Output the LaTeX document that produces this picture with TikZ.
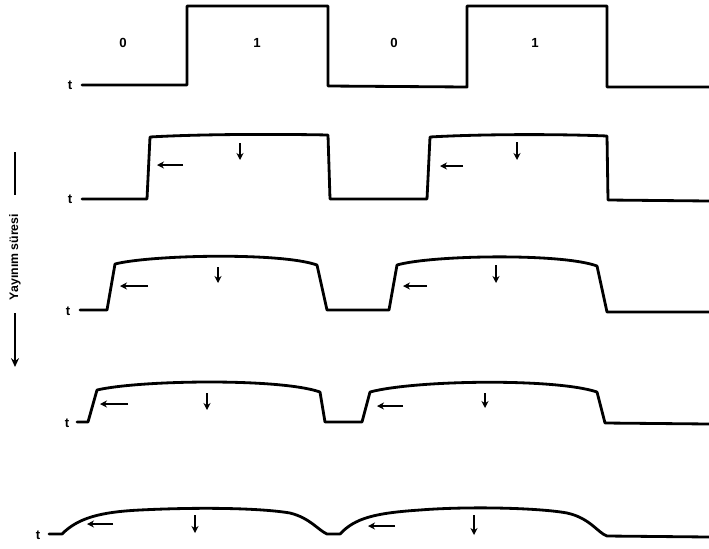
\documentclass[tikz,border=0pt]{standalone}
\usepackage{fontspec}
\setmainfont{Liberation Sans}
\usepackage{tikz}
\usetikzlibrary{arrows.meta}

\begin{document}
\begin{tikzpicture}[
  x=0.02cm, y=-0.02cm,
  font=\fontsize{7.5}{8}\selectfont\bfseries,
  wave/.style={line width=1.6pt, line join=round, line cap=round},
  lbl/.style={inner sep=0pt},
  shiftarr/.style={-{Stealth[length=4pt,width=4pt]}, line width=0.8pt},
  axarr/.style={-{Stealth[length=5pt,width=4.5pt]}, line width=0.9pt}
]
\useasboundingbox (0,0) rectangle (709,548);

% giris isareti
\node[lbl] (t1) at (70,85) {t};
\node[lbl] (b0a) at (123,43) {0};
\node[lbl] (b1a) at (257,43) {1};
\node[lbl] (b0b) at (394,43) {0};
\node[lbl] (b1b) at (535,43) {1};
\draw[wave] (82,85) -- (187,85) -- (187,6) -- (328,6) -- (328,86) -- (467,87)
  -- (467,6) -- (607,6) -- (607,87) -- (709,87);

% 1. adim
\node[lbl] (t2) at (70,199) {t};
\draw[wave] (82,199) -- (147,199) -- (150,137) .. controls (200,134) and (280,134) .. (328,135)
  -- (330,199) -- (427,199) -- (430,137) .. controls (480,134) and (560,134) .. (607,136)
  -- (608,200) -- (709,201);
\draw[shiftarr] (183,165) -- (157,165);
\draw[shiftarr] (463,166) -- (440,166);
\draw[shiftarr] (240,143) -- (240,160);
\draw[shiftarr] (517,142) -- (517,160);

% 2. adim
\node[lbl] (t3) at (68,311) {t};
\draw[wave] (80,310) -- (107,310) -- (115,264) .. controls (150,255) and (280,252) .. (317,265)
  -- (327,310) -- (389,310) -- (397,265) .. controls (432,255) and (562,253) .. (597,266)
  -- (607,312) -- (709,312);
\draw[shiftarr] (148,286) -- (120,286);
\draw[shiftarr] (427,286) -- (403,286);
\draw[shiftarr] (218,267) -- (218,283);
\draw[shiftarr] (496,265) -- (496,283);

% 3. adim
\node[lbl] (t4) at (67,423) {t};
\draw[wave] (77,422) -- (88,422) -- (97,390) .. controls (140,380) and (280,378) .. (320,392)
  -- (325,422) -- (362,422) -- (370,392) .. controls (415,380) and (555,378) .. (597,392)
  -- (605,423) -- (709,424);
\draw[shiftarr] (128,404) -- (100,404);
\draw[shiftarr] (403,406) -- (377,406);
\draw[shiftarr] (207,393) -- (207,410);
\draw[shiftarr] (485,393) -- (485,408);

% 4. adim
\node[lbl] (t5) at (38,535) {t};
\draw[wave] (49,534) -- (62,534) .. controls (78,518) and (100,512) .. (140,510)
  .. controls (200,507) and (260,508) .. (290,513) .. controls (310,518) and (318,530) .. (327,534)
  -- (340,534) .. controls (355,518) and (375,513) .. (420,510)
  .. controls (470,506) and (540,508) .. (567,513) .. controls (590,518) and (598,533) .. (607,536)
  -- (709,537);
\draw[shiftarr] (113,524) -- (87,524);
\draw[shiftarr] (395,526) -- (368,526);
\draw[shiftarr] (195,515) -- (195,533);
\draw[shiftarr] (474,515) -- (474,535);

% zaman ekseni
\coordinate (axtop) at (15,152);
\coordinate (axmid) at (15,195);
\node[lbl, rotate=90, font=\fontsize{7}{8}\selectfont\bfseries] (yayinim) at (15,257) {Yayınım süresi};
\coordinate (axlow) at (15,313);
\coordinate (axend) at (15,367);
\draw[line width=0.9pt] (axtop) -- (axmid);
\draw[axarr] (axlow) -- (axend);
\end{tikzpicture}
\end{document}
